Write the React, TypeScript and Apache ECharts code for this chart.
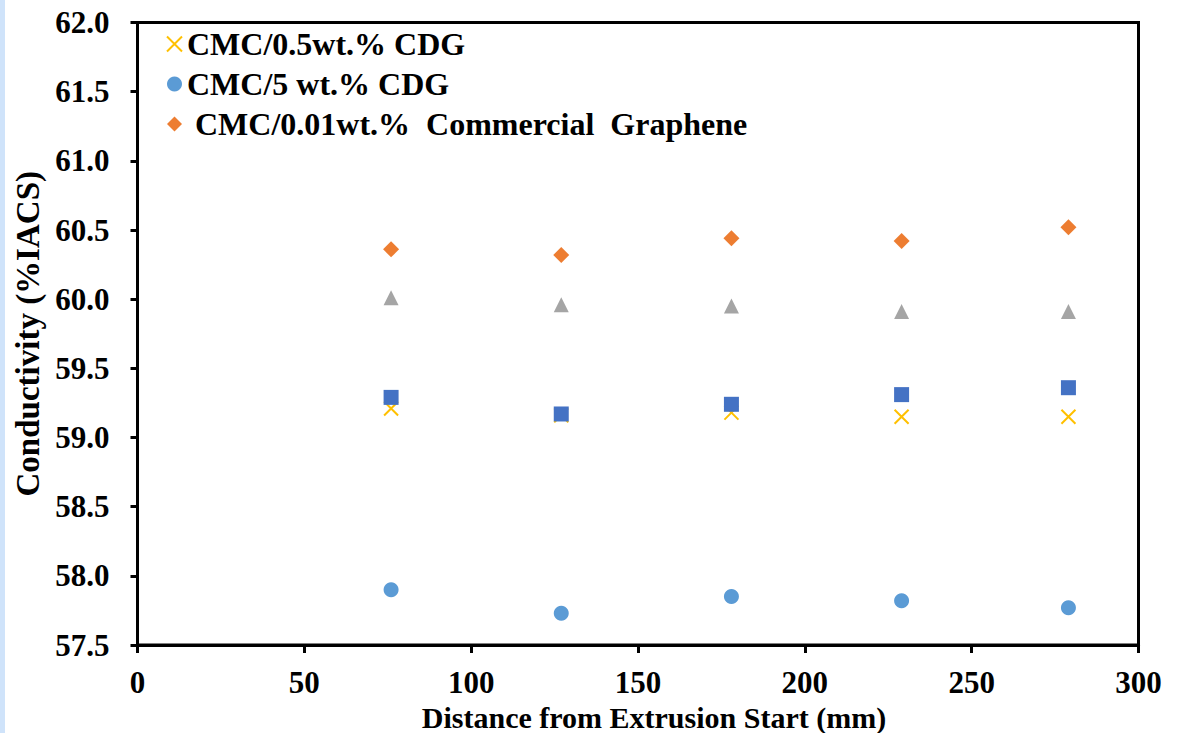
import React, { useEffect, useRef } from "react";
import * as echarts from "echarts";

const xValues = [76, 127, 178, 229, 279];
const cdg05 = [59.21, 59.16, 59.18, 59.15, 59.15];
const cdg5 = [57.9, 57.73, 57.85, 57.82, 57.77];
const commercial = [60.36, 60.32, 60.44, 60.42, 60.52];
const squareVals = [59.29, 59.17, 59.24, 59.31, 59.36];
const triangleVals = [60.01, 59.96, 59.95, 59.91, 59.91];

const legendNames = [
  "CMC/0.5wt.% CDG",
  "CMC/5 wt.% CDG",
  " CMC/0.01wt.%  Commercial  Graphene",
];

const FONT = "'Liberation Serif', 'Times New Roman', serif";

function pairs(ys: number[]) {
  return xValues.map((x, i) => [x, ys[i]]);
}

export default function App() {
  const ref = useRef<HTMLDivElement>(null);
  useEffect(() => {
    if (!ref.current) return;
    const chart = echarts.init(ref.current, null, { renderer: "svg" });
    chart.setOption({
      animation: false,
      backgroundColor: "#ffffff",
      textStyle: { fontFamily: FONT },
      graphic: [
        {
          type: "rect",
          left: 0,
          top: 0,
          shape: { width: 5, height: 733 },
          style: { fill: "#CFE3FA" },
          silent: true,
        },
      ],
      grid: {
        left: 137.5,
        top: 22.5,
        width: 1001,
        height: 622.5,
        show: true,
        borderColor: "#000",
        borderWidth: 3,
        backgroundColor: "transparent",
        containLabel: false,
        outerBoundsMode: "none",
      },
      legend: {
        orient: "vertical",
        left: 166,
        top: 28,
        padding: 0,
        itemWidth: 15,
        itemHeight: 15,
        itemGap: 8,
        data: legendNames,
        formatter: (name: string) => "{t|" + name + "}",
        textStyle: {
          fontFamily: FONT,
          fontWeight: "bold",
          fontSize: 32,
          color: "#000",
          rich: {
            t: {
              fontFamily: FONT,
              fontWeight: "bold",
              fontSize: 32,
              color: "#000",
            },
          },
        },
      },
      xAxis: {
        type: "value",
        min: 0,
        max: 300,
        interval: 50,
        name: "Distance from Extrusion Start (mm)",
        nameLocation: "middle",
        nameGap: 44,
        nameTextStyle: {
          fontFamily: FONT,
          fontWeight: "bold",
          fontSize: 30,
          color: "#000",
          padding: [0, 0, 0, 32],
        },
        axisLine: { show: true, lineStyle: { color: "#000", width: 3 } },
        axisTick: { show: true, inside: false, length: 8, lineStyle: { color: "#000", width: 3 } },
        axisLabel: {
          fontFamily: FONT,
          fontWeight: "bold",
          fontSize: 31,
          color: "#000",
          margin: 22,
        },
        splitLine: { show: false },
      },
      yAxis: {
        type: "value",
        min: 57.5,
        max: 62,
        interval: 0.5,
        name: "Conductivity (%IACS)",
        nameLocation: "middle",
        nameRotate: 90,
        nameGap: 86,
        nameTextStyle: {
          fontFamily: FONT,
          fontWeight: "bold",
          fontSize: 33,
          color: "#000",
        },
        axisLine: { show: true, lineStyle: { color: "#000", width: 3 } },
        axisTick: { show: true, inside: false, length: 7, lineStyle: { color: "#000", width: 3 } },
        axisLabel: {
          fontFamily: FONT,
          fontWeight: "bold",
          fontSize: 31,
          color: "#000",
          margin: 28,
          formatter: (v: number) => v.toFixed(1),
        },
        splitLine: { show: false },
      },
      series: [
        {
          name: "squares",
          type: "scatter",
          data: pairs(squareVals),
          symbol: "rect",
          symbolSize: 15,
          itemStyle: { color: "#4472C4", opacity: 1 },
          z: 3,
        },
        {
          name: legendNames[0],
          type: "scatter",
          data: pairs(cdg05),
          symbol: "path://M0,0L10,10M10,0L0,10",
          symbolSize: 14,
          itemStyle: { color: "rgba(0,0,0,0)", borderColor: "#FFC000", borderWidth: 2, opacity: 1 },
          z: 2,
        },
        {
          name: legendNames[1],
          type: "scatter",
          data: pairs(cdg5),
          symbol: "circle",
          symbolSize: 15,
          itemStyle: { color: "#5B9BD5", opacity: 1 },
        },
        {
          name: legendNames[2],
          type: "scatter",
          data: pairs(commercial),
          symbol: "diamond",
          symbolSize: 16,
          itemStyle: { color: "#ED7D31", opacity: 1 },
        },
        {
          name: "triangles",
          type: "scatter",
          data: pairs(triangleVals),
          symbol: "triangle",
          symbolSize: 15,
          itemStyle: { color: "#A5A5A5", opacity: 1 },
        },
      ],
    });
    return () => chart.dispose();
  }, []);
  return (
    <div
      ref={ref}
      style={{ position: "fixed", left: 0, top: 0, width: 1182, height: 733 }}
    />
  );
}
